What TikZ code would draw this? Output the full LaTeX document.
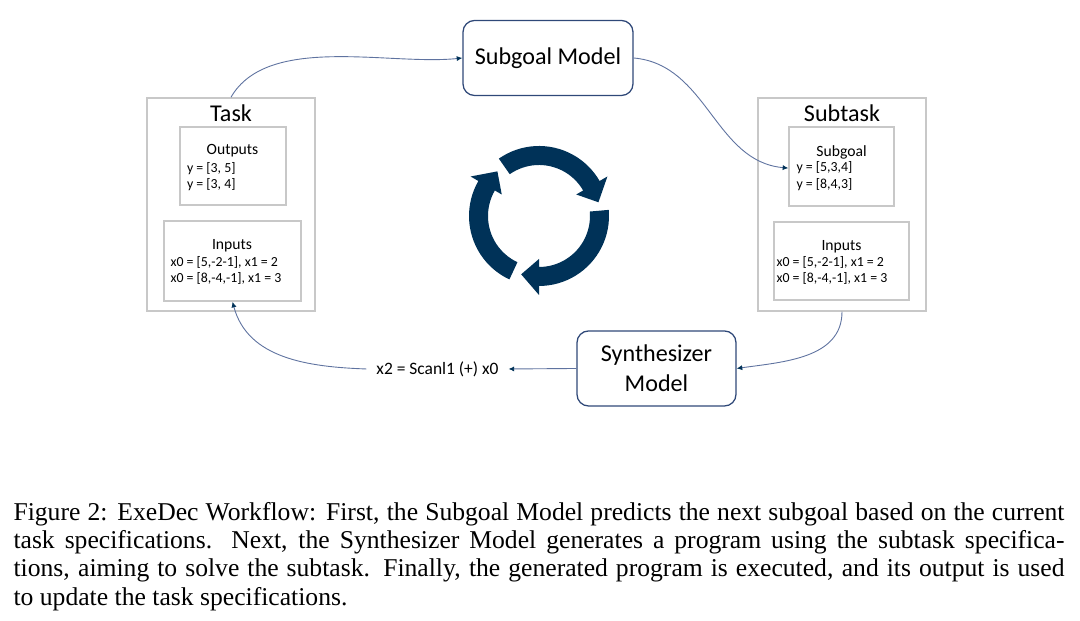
\documentclass[tikz,border=0pt]{standalone}
\usepackage{fontspec}
\setmainfont{Carlito}
\newfontfamily\capfont{Liberation Serif}
\usetikzlibrary{arrows.meta}

\definecolor{navy}{RGB}{0,50,88}
\definecolor{modelline}{RGB}{47,72,120}
\definecolor{flowline}{RGB}{95,115,160}
\definecolor{boxline}{RGB}{200,200,200}

\newcommand{\pu}{0.39pt}

\tikzset{
	model/.style={draw=modelline, line width=0.5pt, rounded corners=4.5pt, inner sep=0pt, align=center, font=\fontsize{9.4}{11.6}\selectfont},
	specbox/.style={draw=boxline, line width=0.6pt, inner sep=0pt},
	title/.style={font=\fontsize{9.4}{11}\selectfont, anchor=base, inner sep=0pt},
	head/.style={font=\fontsize{6.1}{7}\selectfont, anchor=base, inner sep=0pt},
	spec/.style={font=\fontsize{5.4}{6.5}\selectfont, anchor=base west, inner sep=0pt},
	flow/.style={draw=flowline, line width=0.35pt, -{Latex[length=2.2pt,width=2pt,color=navy]}},
}

\begin{document}
\begin{tikzpicture}[x=\pu, y=\pu]
				\useasboundingbox (0,0) rectangle (1080,621);
				% the two models
				\node[model, minimum width=170*\pu, minimum height=75*\pu] (sgm) at (548,563) {Subgoal Model};
				\node[model, minimum width=159*\pu, minimum height=75*\pu] (syn) at (656.5,252.5) {Synthesizer\\Model};
				% task: outputs and inputs
				\node[specbox, minimum width=168*\pu, minimum height=213*\pu] (task) at (231,416.5) {};
				\node[title] (tasktl) at (231,499) {Task};
				\node[specbox, minimum width=106*\pu, minimum height=78*\pu] (tout) at (233,455) {};
				\node[head] (touthd) at (232.5,466) {Outputs};
				\node[spec] (ty1) at (186.5,448) {y = [3, 5]};
				\node[spec] (ty2) at (186.5,432) {y = [3, 4]};
				\node[specbox, minimum width=137*\pu, minimum height=80*\pu] (tin) at (232.5,360) {};
				\node[head] (tinhd) at (232,371) {Inputs};
				\node[spec] (tx1) at (170,354) {x0 = [5,-2-1], x1 = 2};
				\node[spec] (tx2) at (170,338) {x0 = [8,-4,-1], x1 = 3};
				% subtask: subgoal and inputs
				\node[specbox, minimum width=168*\pu, minimum height=213*\pu] (sub) at (842,416.5) {};
				\node[title] (subtl) at (842,499) {Subtask};
				\node[specbox, minimum width=105*\pu, minimum height=79*\pu] (sgl) at (841.5,454.5) {};
				\node[head] (sglhd) at (841.5,464.5) {Subgoal};
				\node[spec] (sy1) at (796,449) {y = [5,3,4]};
				\node[spec] (sy2) at (796,432) {y = [8,4,3]};
				\node[specbox, minimum width=135*\pu, minimum height=78*\pu] (sin) at (841.5,360) {};
				\node[head] (sinhd) at (841.5,370.5) {Inputs};
				\node[spec] (sx1) at (776,354) {x0 = [5,-2-1], x1 = 2};
				\node[spec] (sx2) at (776,338) {x0 = [8,-4,-1], x1 = 3};
				% program found by the synthesizer
				\node[font=\fontsize{6.8}{8}\selectfont, inner xsep=3.7pt] (res) at (437.5,252) {x2 = Scanl1 (+) x0};
				% cycle icon, three arrows
				\begin{scope}[shift={(539,405)}]
					\foreach \r in {0,120,240}
					\fill[navy, rotate=-\r] plot[domain=125:30, variable=\t] ({70*cos(\t)},{70*sin(\t)}) -- (30:79) -- (13:61) -- (30:43) -- plot[domain=30:125, variable=\t] ({51*cos(\t)},{51*sin(\t)}) -- cycle;
				\end{scope}
				% connectors
				\draw[flow] (task.north) to[out=60, in=186, looseness=0.8] (sgm.west);
				\draw[flow] (sgm.east) to[out=-5, in=175] ([xshift=-3pt]sy1.west);
				\draw[flow] (sub.south) to[out=-90, in=8] (syn.east);
				\draw[flow] (syn.west) -- (res.east);
				\draw[flow] (res.west) to[out=178, in=-75] (tin.south);
				% caption
				\node[anchor=north west, inner sep=0pt, text width=409.9pt, align=justify, font=\capfont\fontsize{10}{11}\selectfont] (cap) at (13,119) {Figure 2: ExeDec Workflow: First, the Subgoal Model predicts the next subgoal based on the current\linebreak task specifications.  Next, the Synthesizer Model generates a program using the subtask specifica-\linebreak tions, aiming to solve the subtask. Finally, the generated program is executed, and its output is used\linebreak to update the task specifications.};
			\end{tikzpicture}
\end{document}
